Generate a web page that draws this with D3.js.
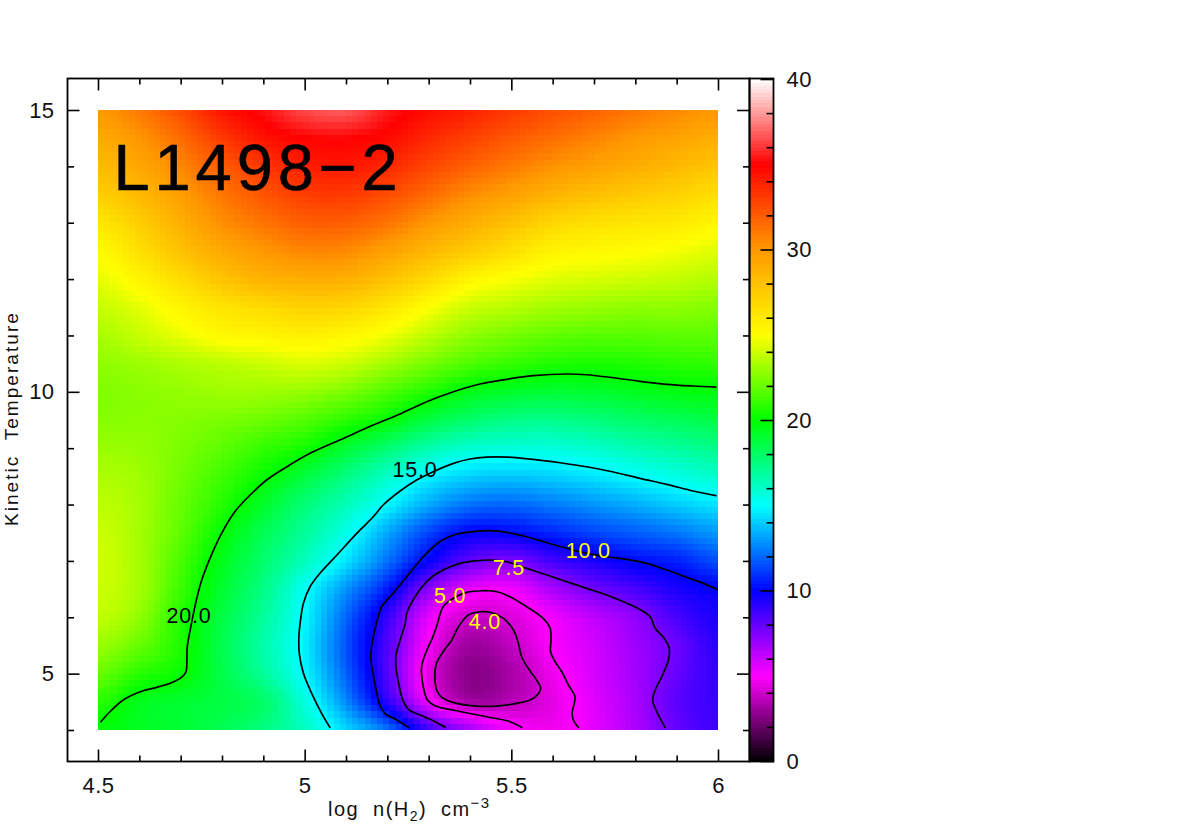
<!DOCTYPE html>
<html>
<head>
<meta charset="utf-8">
<script src="https://cdn.jsdelivr.net/npm/d3@7"></script>
<style>
html,body{margin:0;padding:0;background:#fff}
svg{display:block}
text{font-family:"Liberation Sans",Arial,sans-serif;fill:#111}
</style>
</head>
<body>
<svg id="c" width="1186" height="830"></svg>
<script>
// ---- data ----
const titleText = "L1498\u22122";
const xTickMajor = [4.5, 5, 5.5, 6];
const xTickLabels = ["4.5", "5", "5.5", "6"];
const yTickMajor = [5, 10, 15];
const yTickLabels = ["5", "10", "15"];
const barTickMajor = [0, 10, 20, 30, 40];
const colorStops = [0, 5, 10, 15, 20, 25, 30, 35, 40];
const colorValues = ["#000000", "#ff00ff", "#0000ff", "#00ffff", "#00ff00", "#ffff00", "#ff9900", "#ff0000", "#ffffff"];

const densityColumns = [4.5, 4.6, 4.7, 4.8, 4.9, 5.0, 5.1, 5.2, 5.3, 5.4, 5.5, 5.6, 5.7, 5.8, 5.9, 6.0];
const temperatureRows = [4, 4.5, 5, 5.5, 6, 6.5, 7, 7.5, 8, 8.5, 9, 9.5, 10, 10.5, 11, 11.5, 12, 12.5, 13, 13.5, 14, 14.5, 15];
const chiRows = [
 [19.8,19.4,19.0,18.4,17.5,16.2,14.2,12.2,8.8,6.8,5.2,4.7,5.5,6.6,8.0,8.8],
 [20.9,19.5,19.1,18.7,18.0,15.6,12.7,9.2,5.3,3.3,3.6,4.5,5.6,6.7,8.2,8.9],
 [22.0,20.8,20.1,18.6,17.0,14.9,11.9,8.4,4.5,2.7,3.3,4.7,5.8,6.8,8.0,9.0],
 [23.0,22.0,20.5,18.5,16.7,14.7,11.6,8.5,4.95,3.1,3.8,5.05,5.9,6.9,7.9,9.2],
 [23.8,22.8,20.6,18.7,17.0,14.9,12.0,9.0,5.5,4.0,4.3,5.3,6.3,7.2,8.6,9.5],
 [24.0,23.2,21.1,19.1,17.4,15.2,12.9,10.5,7.3,5.5,5.3,6.7,7.8,8.6,9.5,10.0],
 [24.1,23.2,21.4,19.5,17.9,16.3,14.5,12.2,9.9,8.1,7.6,8.7,9.5,10.2,10.6,11.5],
 [24.0,23.2,21.8,20.0,18.4,17.0,15.4,13.3,11.3,10.0,10.1,10.7,11.3,11.8,12.3,13.0],
 [23.7,23.2,22.0,20.7,19.2,17.7,16.4,14.9,13.3,12.2,12.0,12.4,12.9,13.4,14.0,14.5],
 [23.4,23.1,22.2,21.2,20.1,18.8,17.5,16.1,14.8,14.1,13.9,14.1,14.5,15.0,15.5,16.0],
 [23.0,22.9,22.4,21.8,21.0,20.3,19.0,17.8,16.6,15.9,15.7,15.7,16.0,16.5,16.9,17.3],
 [22.6,22.7,22.6,22.4,22.1,21.6,20.8,20.0,18.7,17.9,17.4,17.3,17.6,18.0,18.3,18.6],
 [22.5,22.7,22.9,23.1,23.1,22.9,22.4,21.5,20.6,19.6,19.2,19.0,19.1,19.4,19.7,19.8],
 [22.8,23.1,23.4,23.7,24.0,24.3,24.0,23.2,22.3,21.5,21.0,20.6,20.5,20.6,20.8,20.9],
 [23.3,23.9,24.6,25.3,25.5,25.7,25.4,24.7,23.7,22.8,22.3,21.9,21.7,21.7,21.8,21.8],
 [23.9,24.5,25.5,26.3,26.8,27.2,27.0,26.2,25.0,24.0,23.6,23.2,23.0,22.8,22.8,22.6],
 [24.5,25.5,26.7,27.9,28.7,29.0,28.9,28.0,26.8,25.5,24.9,24.4,24.2,24.0,23.8,23.5],
 [25.2,26.5,28.0,29.2,30.0,30.6,30.5,29.6,28.5,27.5,26.5,25.6,25.3,25.1,24.8,24.4],
 [26.2,27.4,28.9,30.3,31.2,31.9,31.9,31.2,30.0,29.0,28.0,27.0,26.5,26.2,26.0,25.4],
 [27.4,28.4,29.8,31.1,32.2,33.0,33.1,32.5,31.5,30.4,29.6,28.7,28.1,27.6,27.2,26.6],
 [28.3,29.3,30.6,32.0,33.2,34.0,34.2,33.7,32.7,31.8,31.0,30.2,29.6,29.0,28.4,27.8],
 [29.2,30.1,31.5,33.1,34.4,35.0,35.1,34.7,33.7,32.9,32.1,31.4,30.7,30.0,29.5,28.9],
 [30.0,31.0,32.5,34.3,35.3,36.4,36.7,35.5,34.6,33.9,33.1,32.4,31.8,31.1,30.5,30.0]
];

const contour20 = [[4.507,4.147],[4.529,4.324],[4.561,4.532],[4.602,4.679],[4.642,4.757],[4.678,4.839],[4.702,4.934],[4.713,5.034],[4.715,5.241],[4.716,5.477],[4.723,5.774],[4.731,6.07],[4.739,6.336],[4.751,6.661],[4.771,7.046],[4.799,7.489],[4.831,7.873],[4.868,8.169],[4.908,8.435],[4.957,8.671],[5.013,8.909],[5.085,9.145],[5.166,9.411],[5.231,9.606],[5.295,9.824],[5.36,10.002],[5.424,10.138],[5.489,10.222],[5.553,10.286],[5.634,10.316],[5.682,10.303],[5.747,10.25],[5.811,10.186],[5.876,10.133],[5.94,10.103],[5.995,10.085]];
const contour15 = [[5.061,4.047],[5.041,4.296],[5.017,4.65],[4.997,5.005],[4.987,5.36],[4.986,5.655],[4.989,5.892],[4.997,6.247],[5.013,6.542],[5.037,6.78],[5.078,7.104],[5.126,7.489],[5.166,7.784],[5.19,7.992],[5.231,8.24],[5.271,8.435],[5.311,8.582],[5.36,8.731],[5.4,8.808],[5.44,8.843],[5.489,8.843],[5.553,8.802],[5.618,8.742],[5.682,8.671],[5.747,8.577],[5.811,8.465],[5.876,8.359],[5.94,8.24],[5.995,8.157]];
const contour10 = [[5.251,4.047],[5.223,4.177],[5.194,4.296],[5.182,4.443],[5.173,4.709],[5.164,5.064],[5.16,5.3],[5.166,5.655],[5.178,6.01],[5.186,6.187],[5.214,6.425],[5.247,6.719],[5.287,7.074],[5.327,7.34],[5.368,7.472],[5.408,7.518],[5.448,7.536],[5.489,7.507],[5.537,7.429],[5.586,7.323],[5.634,7.223],[5.682,7.135],[5.731,7.074],[5.779,7.028],[5.827,6.957],[5.876,6.838],[5.924,6.709],[5.964,6.602],[5.997,6.496]];
const contour75 = [[5.34,4.047],[5.311,4.164],[5.279,4.265],[5.251,4.366],[5.239,4.502],[5.229,4.767],[5.221,5.123],[5.221,5.33],[5.231,5.596],[5.243,5.892],[5.247,6.07],[5.267,6.365],[5.299,6.661],[5.335,6.838],[5.376,6.957],[5.416,7.003],[5.448,7.016],[5.489,6.985],[5.537,6.868],[5.586,6.749],[5.634,6.631],[5.682,6.513],[5.731,6.395],[5.771,6.276],[5.811,6.141],[5.836,6.01],[5.848,5.804],[5.868,5.644],[5.882,5.449],[5.88,5.241],[5.864,4.945],[5.848,4.709],[5.842,4.532],[5.852,4.324],[5.872,4.047]];
const contour5 = [[5.525,4.047],[5.497,4.147],[5.44,4.235],[5.368,4.342],[5.315,4.43],[5.297,4.532],[5.287,4.767],[5.283,5.123],[5.294,5.389],[5.307,5.596],[5.319,5.832],[5.327,6.04],[5.335,6.187],[5.36,6.336],[5.392,6.443],[5.432,6.471],[5.465,6.453],[5.497,6.365],[5.537,6.187],[5.577,5.981],[5.594,5.804],[5.596,5.596],[5.595,5.389],[5.606,5.211],[5.622,5.034],[5.638,4.798],[5.654,4.59],[5.647,4.296],[5.65,4.177],[5.662,4.047]];
const contour4 = [[5.571,4.739],[5.561,4.886],[5.541,5.094],[5.525,5.3],[5.517,5.538],[5.505,5.774],[5.481,5.981],[5.453,6.081],[5.424,6.098],[5.396,6.04],[5.372,5.832],[5.356,5.596],[5.335,5.389],[5.319,5.183],[5.315,4.945],[5.321,4.679],[5.335,4.562],[5.368,4.473],[5.416,4.425],[5.465,4.425],[5.513,4.473],[5.553,4.562]];

const contourLabelText = ["20.0", "15.0", "10.0", "7.5", "5.0", "4.0"];
const contourLabelN = [4.72, 5.267, 5.686, 5.494, 5.352, 5.436];
const contourLabelT = [6.04, 8.63, 7.18, 6.89, 6.39, 5.92];
const contourLabelColor = ["#000000", "#000000", "#ffff00", "#ffff00", "#ffff00", "#ffff00"];

// ---- layout ----
const W = {l: 67.5, r: 749.5, t: 78.5, b: 761.5, barR: 773.5};
const x = d3.scaleLinear().domain([4.5, 6]).range([98, 718]);
const y = d3.scaleLinear().domain([4, 15]).range([730, 110]);
const barY = d3.scaleLinear().domain([0, 40]).range([761, 79]);
const color = d3.scaleLinear().domain(colorStops).range(colorValues).clamp(true);

const svg = d3.select("#c");

// ---- smooth resampling of the read grid for the 100 x 100 cells ----
function cr(a, b, c, d, t) {
  return 0.5 * (2*b + (c-a)*t + (2*a-5*b+4*c-d)*t*t + (3*b-a-3*c+d)*t*t*t);
}
function rowAt(j, u) {
  const r = chiRows[Math.max(0, Math.min(chiRows.length-1, j))], m = r.length - 1;
  const i = Math.min(m-1, Math.floor(u)), t = u - i;
  const g = k => r[Math.max(0, Math.min(m, k))];
  return cr(g(i-1), g(i), g(i+1), g(i+2), t);
}
function field(n, T) {
  const u = (n - densityColumns[0]) / (densityColumns[1] - densityColumns[0]);
  const v = (T - temperatureRows[0]) / (temperatureRows[1] - temperatureRows[0]);
  const j = Math.min(chiRows.length-2, Math.floor(v)), t = v - j;
  return cr(rowAt(j-1,u), rowAt(j,u), rowAt(j+1,u), rowAt(j+2,u), t);
}
const nCells = 100;
const cells = [];
for (let j = 0; j < nCells; j++) for (let i = 0; i < nCells; i++) {
  const n0 = 4.5 + i*1.5/nCells, T0 = 4 + j*11/nCells;
  cells.push({n0, n1: n0 + 1.5/nCells, T0, T1: T0 + 11/nCells,
              v: field(n0 + 0.75/nCells, T0 + 5.5/nCells)});
}
svg.append("g").attr("class","cells").attr("shape-rendering","crispEdges")
  .selectAll("rect").data(cells).join("rect")
  .attr("x", d => Math.round(x(d.n0)))
  .attr("width", d => Math.round(x(d.n1)) - Math.round(x(d.n0)))
  .attr("y", d => Math.round(y(d.T1)))
  .attr("height", d => Math.round(y(d.T0)) - Math.round(y(d.T1)))
  .attr("fill", d => color(d.v));

// ---- colour bar ----
const barSteps = d3.range(0, 40, 0.2);
svg.append("g").attr("shape-rendering","crispEdges").selectAll("rect").data(barSteps).join("rect")
  .attr("x", W.r).attr("width", W.barR - W.r)
  .attr("y", d => barY(d + 0.2)).attr("height", d => barY(d) - barY(d + 0.2) + 0.6)
  .attr("fill", d => color(d + 0.1));

// ---- contours ----
const line = d3.line().x(d => x(d[0])).y(d => y(d[1])).curve(d3.curveCatmullRom.alpha(0.5));
const lineClosed = d3.line().x(d => x(d[0])).y(d => y(d[1])).curve(d3.curveCatmullRomClosed.alpha(0.5));
const gc = svg.append("g").attr("fill","none").attr("stroke","#000").attr("stroke-width",1.7).attr("stroke-linejoin","round").attr("stroke-linecap","round");
[contour20, contour15, contour10, contour75, contour5].forEach(c => gc.append("path").attr("d", line(c)));
gc.append("path").attr("d", lineClosed(contour4));

// ---- contour labels ----
svg.append("g").selectAll("text").data(contourLabelText).join("text")
  .attr("x", (d,i) => x(contourLabelN[i])).attr("y", (d,i) => y(contourLabelT[i]) + 7.5)
  .attr("text-anchor","middle").attr("font-size",21.5).attr("letter-spacing",0.8)
  .style("fill", (d,i) => contourLabelColor[i]).text(d => d);

// ---- frame and ticks through d3 axes ----
const minorX = d3.range(4.5, 6.001, 0.1).map(v => +v.toFixed(1)).filter(v => !xTickMajor.includes(v));
const minorY = d3.range(4, 15.001, 1).filter(v => !yTickMajor.includes(v));
const minorBar = d3.range(0, 40.001, 2).filter(v => !barTickMajor.includes(v));

function addAxis(gen, tx, ty) {
  const g = svg.append("g").attr("transform", `translate(${tx},${ty})`).call(gen);
  g.select(".domain").remove();
  g.selectAll("line").attr("stroke","#000").attr("stroke-width",1.6);
  return g;
}
const fmtNone = () => "";
const xMajorLabel = v => xTickLabels[xTickMajor.indexOf(v)];
const yMajorLabel = v => yTickLabels[yTickMajor.indexOf(v)];
function styleTicks(g) {
  g.selectAll("text").attr("font-size",22).attr("letter-spacing",0.4)
    .attr("font-family","Liberation Sans").style("fill","#111");
}

// bottom
styleTicks(addAxis(d3.axisBottom(x).tickValues(xTickMajor).tickFormat(xMajorLabel).tickSize(-12).tickPadding(16), 0, W.b));
addAxis(d3.axisBottom(x).tickValues(minorX).tickFormat(fmtNone).tickSize(-6), 0, W.b);
// top
addAxis(d3.axisTop(x).tickValues(xTickMajor).tickFormat(fmtNone).tickSize(-12), 0, W.t);
addAxis(d3.axisTop(x).tickValues(minorX).tickFormat(fmtNone).tickSize(-6), 0, W.t);
// left
styleTicks(addAxis(d3.axisLeft(y).tickValues(yTickMajor).tickFormat(yMajorLabel).tickSize(-12).tickPadding(13), W.l, 0));
addAxis(d3.axisLeft(y).tickValues(minorY).tickFormat(fmtNone).tickSize(-6.5), W.l, 0);
// right of the map
addAxis(d3.axisRight(y).tickValues(yTickMajor).tickFormat(fmtNone).tickSize(-12.5), W.r, 0);
addAxis(d3.axisRight(y).tickValues(minorY).tickFormat(fmtNone).tickSize(-6.5), W.r, 0);
// colour bar
styleTicks(addAxis(d3.axisRight(barY).tickValues(barTickMajor).tickFormat(d3.format("d")).tickSize(-13).tickPadding(13), W.barR, 0));
addAxis(d3.axisRight(barY).tickValues(minorBar).tickFormat(fmtNone).tickSize(-7), W.barR, 0);

svg.append("rect").attr("x",W.l).attr("y",W.t).attr("width",W.r-W.l).attr("height",W.b-W.t)
  .attr("fill","none").attr("stroke","#000").attr("stroke-width",1.8);
svg.append("rect").attr("x",W.r).attr("y",W.t).attr("width",W.barR-W.r).attr("height",W.b-W.t)
  .attr("fill","none").attr("stroke","#000").attr("stroke-width",1.8);

// ---- title and axis titles ----
svg.append("text").attr("x",113.5).attr("y",189.5).attr("font-size",65).attr("letter-spacing",4.9)
  .attr("stroke","#000").attr("stroke-width",0.6).attr("stroke-linejoin","round")
  .style("fill","#000").text(titleText);

const xt = svg.append("text").attr("x",328).attr("y",816).attr("font-size",20).attr("letter-spacing",1.45);
xt.append("tspan").attr("xml:space","preserve").text("log  n(H");
xt.append("tspan").attr("dy",5).attr("font-size",14).text("2");
xt.append("tspan").attr("dy",-5).attr("xml:space","preserve").text(")  cm");
xt.append("tspan").attr("dy",-8).attr("font-size",15).text("\u22123");

svg.append("text").attr("transform","translate(17.5,526) rotate(-90)").attr("font-size",19)
  .attr("letter-spacing",2.05).attr("xml:space","preserve").text("Kinetic  Temperature");
</script>
</body>
</html>
